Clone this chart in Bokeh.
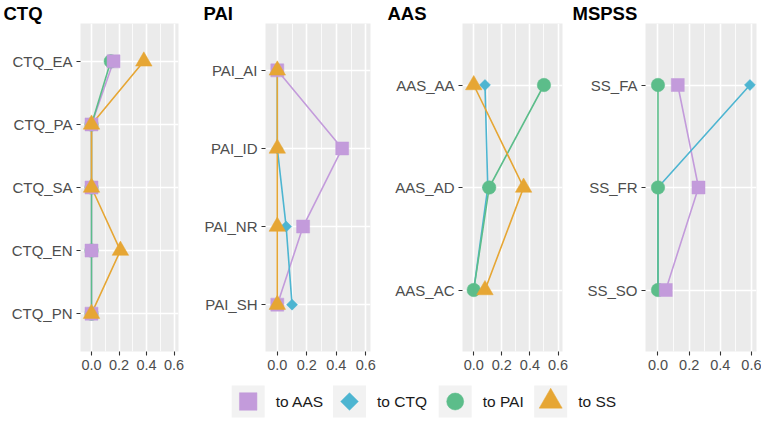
import math
from bokeh.plotting import figure
from bokeh.layouts import column, row
from bokeh.models import Range1d, FixedTicker
from bokeh.embed import file_html
from bokeh.resources import INLINE
from bokeh.core.properties import value

# ---------------- data ----------------
series_keys = ["AAS", "CTQ", "PAI", "SS"]
series_labels = ["to AAS", "to CTQ", "to PAI", "to SS"]

ctq_items = ["CTQ_EA", "CTQ_PA", "CTQ_SA", "CTQ_EN", "CTQ_PN"]
ctq_to_aas = [0.16, 0.0, 0.0, 0.0, 0.0]
ctq_to_pai = [0.14, 0.0, 0.0, 0.0, 0.0]
ctq_to_ss = [0.38, 0.0, 0.0, 0.21, 0.0]

pai_items = ["PAI_AI", "PAI_ID", "PAI_NR", "PAI_SH"]
pai_to_aas = [0.0, 0.44, 0.175, 0.0]
pai_to_ctq = [0.0, 0.0, 0.06, 0.10]
pai_to_ss = [0.0, 0.0, 0.0, 0.0]

aas_items = ["AAS_AA", "AAS_AD", "AAS_AC"]
aas_to_ctq = [0.08, 0.10, 0.0]
aas_to_pai = [0.50, 0.11, 0.0]
aas_to_ss = [0.0, 0.355, 0.08]

ss_items = ["SS_FA", "SS_FR", "SS_SO"]
ss_to_aas = [0.127, 0.26, 0.05]
ss_to_ctq = [0.59, 0.0, 0.0]
ss_to_pai = [0.0, 0.0, 0.0]

x_ticks = [0.0, 0.2, 0.4, 0.6]
x_tick_labels = ["0.0", "0.2", "0.4", "0.6"]

# ---------------- style ----------------
colors = {"AAS": "#C39BDB", "CTQ": "#4DB5D1", "PAI": "#5CBD8A", "SS": "#E6A634"}
marker_style = {
    "AAS": dict(marker="square", size=13, angle=0.0),
    "CTQ": dict(marker="square", size=7.8, angle=math.pi / 4),
    "PAI": dict(marker="circle", size=13.5, angle=0.0),
    "SS": dict(marker="triangle", size=16.5, angle=0.0),
}
legend_marker_style = {
    "AAS": dict(marker="square", size=17.5, angle=0.0),
    "CTQ": dict(marker="square", size=12.5, angle=math.pi / 4),
    "PAI": dict(marker="circle", size=17, angle=0.0),
    "SS": dict(marker="triangle", size=23, angle=0.0),
}
line_order = ["AAS", "CTQ", "PAI", "SS"]
point_order = ["CTQ", "PAI", "AAS", "SS"]
FONT = "Liberation Sans"

panels = [
    ("CTQ", ctq_items, {"AAS": ctq_to_aas, "PAI": ctq_to_pai, "SS": ctq_to_ss}, 200, 80, 98),
    ("PAI", pai_items, {"AAS": pai_to_aas, "CTQ": pai_to_ctq, "SS": pai_to_ss}, 184, 65, 105),
    ("AAS", aas_items, {"CTQ": aas_to_ctq, "PAI": aas_to_pai, "SS": aas_to_ss}, 185, 78, 100),
    ("MSPSS", ss_items, {"AAS": ss_to_aas, "CTQ": ss_to_ctq, "PAI": ss_to_pai}, 192, 76, 111),
]

ROW_H = 380
TOP = 19
FRAME_H = 332


def make_panel(title, items, series, fig_w, b_left, frame_w):
    n = len(items)
    ys = [n - i for i in range(n)]
    p = figure(width=fig_w, height=ROW_H,
               x_range=Range1d(-0.08, 0.632), y_range=Range1d(0.4, n + 0.6),
               output_backend="svg", toolbar_location=None,
               min_border_left=b_left, min_border_right=fig_w - b_left - frame_w,
               min_border_top=TOP, min_border_bottom=ROW_H - TOP - FRAME_H)
    p.background_fill_color = "#EBEBEB"
    p.border_fill_color = "white"
    p.outline_line_color = None

    p.title.text = title
    p.title.text_font = FONT
    p.title.text_font_size = "18.5px"
    p.title.text_font_style = "bold"
    p.title.text_color = "black"
    p.title.align = "left"
    p.title.offset = 3 - b_left
    p.title.standoff = 0

    p.xaxis.ticker = FixedTicker(ticks=x_ticks, minor_ticks=[0.1, 0.3, 0.5])
    p.xaxis.major_label_overrides = {t: l for t, l in zip(x_ticks, x_tick_labels)}
    p.yaxis.ticker = FixedTicker(ticks=ys, minor_ticks=[])
    p.yaxis.major_label_overrides = {y: it for y, it in zip(ys, items)}

    for ax in (p.xaxis, p.yaxis):
        ax.axis_line_color = None
        ax.major_tick_line_color = "#333333"
        ax.major_tick_line_width = 1.1
        ax.major_tick_in = 0
        ax.major_tick_out = 4
        ax.minor_tick_line_color = None
        ax.major_label_text_font = FONT
        ax.major_label_text_color = "#4D4D4D"
    p.xaxis.major_label_text_font_size = "14.5px"
    p.yaxis.major_label_text_font_size = "15px"
    p.xaxis.major_label_standoff = 4
    p.yaxis.major_label_standoff = 4

    p.xgrid.grid_line_color = "white"
    p.xgrid.grid_line_width = 1.6
    p.xgrid.minor_grid_line_color = "white"
    p.xgrid.minor_grid_line_width = 0.8
    p.ygrid.grid_line_color = "white"
    p.ygrid.grid_line_width = 1.6

    for k in [k for k in line_order if k in series]:
        p.line(x=series[k], y=ys, line_color=colors[k], line_width=1.6)
    for k in [k for k in point_order if k in series]:
        st = marker_style[k]
        p.scatter(x=series[k], y=ys, marker=st["marker"], size=st["size"], angle=st["angle"],
                  fill_color=colors[k], line_color=colors[k], line_width=0.5)
    return p


figs = [make_panel(*pan) for pan in panels]

# ---------------- legend ----------------
LEG_W, LEG_H = 761, 41
leg = figure(width=LEG_W, height=LEG_H, x_range=Range1d(0, LEG_W), y_range=Range1d(0, LEG_H),
             output_backend="svg", toolbar_location=None,
             x_axis_location=None, y_axis_location=None,
             min_border=0, min_border_left=0, min_border_right=0, min_border_top=0, min_border_bottom=0)
leg.grid.visible = False
leg.outline_line_color = None
leg.background_fill_color = "white"
leg.border_fill_color = "white"

legend_key_x = [247.7, 349.0, 454.7, 550.2]
legend_y = 20
for kx, key, lab in zip(legend_key_x, series_keys, series_labels):
    leg.rect(x=[kx], y=[legend_y], width=33, height=32, fill_color="#F2F2F2", line_color=None)
    st = legend_marker_style[key]
    leg.scatter(x=[kx], y=[legend_y], marker=st["marker"], size=st["size"], angle=st["angle"],
                fill_color=colors[key], line_color=colors[key], line_width=0.5)
    leg.text(x=[kx + 27.5], y=[legend_y], text=[lab], text_font=value(FONT),
             text_font_size="15.5px", text_baseline="middle", text_align="left",
             text_color="#1A1A1A")

layout = column(row(*figs, spacing=0), leg, spacing=0)

open("out.html", "w").write(file_html(layout, INLINE))
